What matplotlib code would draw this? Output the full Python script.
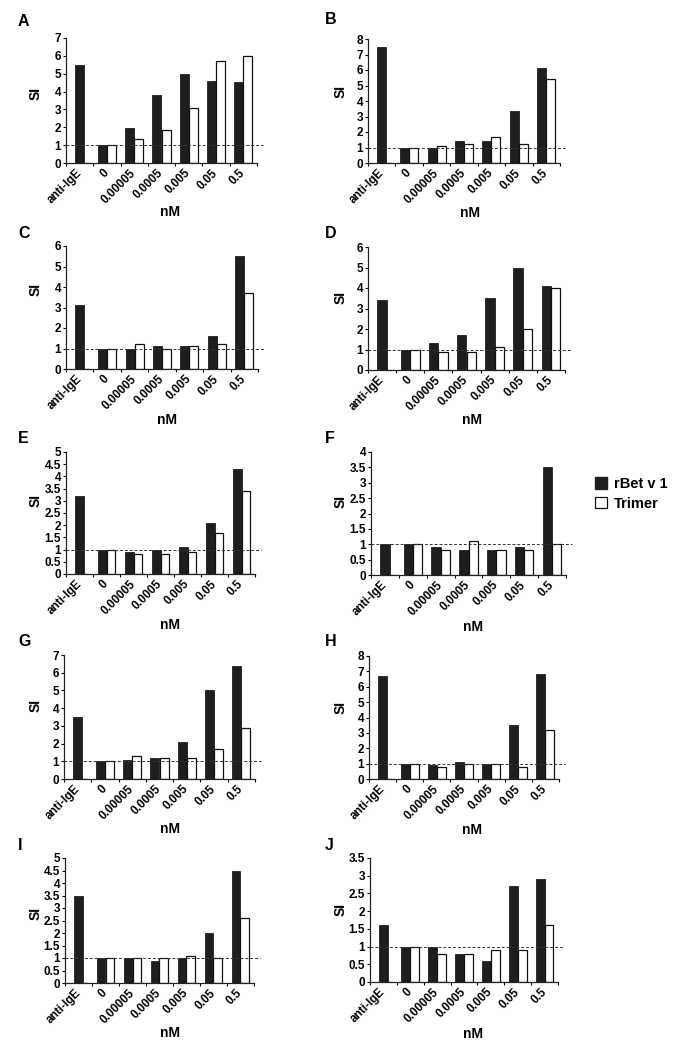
import numpy as np
import matplotlib
matplotlib.use("Agg")
import matplotlib.pyplot as plt
from matplotlib.patches import Patch

plt.rcParams['font.family'] = ['Liberation Sans', 'DejaVu Sans']
plt.rcParams['font.weight'] = 'bold'

categories = ["anti-IgE", "0", "0.00005", "0.0005", "0.005", "0.05", "0.5"]
series_names = ["rBet v 1", "Trimer"]
nan = np.nan

panel_labels = ["A", "B", "C", "D", "E", "F", "G", "H", "I", "J"]

rbet_A = [5.5, 1.0, 1.95, 3.8, 5.0, 4.6, 4.55]
trim_A = [nan, 1.0, 1.35, 1.85, 3.1, 5.7, 6.0]
rbet_B = [7.5, 1.0, 1.0, 1.4, 1.4, 3.35, 6.1]
trim_B = [nan, 1.0, 1.1, 1.2, 1.7, 1.2, 5.4]
rbet_C = [3.1, 1.0, 1.0, 1.1, 1.1, 1.6, 5.5]
trim_C = [nan, 1.0, 1.2, 1.0, 1.1, 1.2, 3.7]
rbet_D = [3.4, 1.0, 1.3, 1.7, 3.5, 5.0, 4.1]
trim_D = [nan, 1.0, 0.9, 0.9, 1.1, 2.0, 4.0]
rbet_E = [3.2, 1.0, 0.9, 1.0, 1.1, 2.1, 4.3]
trim_E = [nan, 1.0, 0.8, 0.8, 0.9, 1.7, 3.4]
rbet_F = [1.0, 1.0, 0.9, 0.8, 0.8, 0.9, 3.5]
trim_F = [nan, 1.0, 0.8, 1.1, 0.8, 0.8, 1.0]
rbet_G = [3.5, 1.0, 1.1, 1.2, 2.1, 5.0, 6.4]
trim_G = [nan, 1.0, 1.3, 1.2, 1.2, 1.7, 2.9]
rbet_H = [6.7, 1.0, 0.9, 1.1, 1.0, 3.5, 6.8]
trim_H = [nan, 1.0, 0.8, 1.0, 1.0, 0.8, 3.2]
rbet_I = [3.5, 1.0, 1.0, 0.9, 1.0, 2.0, 4.5]
trim_I = [nan, 1.0, 1.0, 1.0, 1.1, 1.0, 2.6]
rbet_J = [1.6, 1.0, 1.0, 0.8, 0.6, 2.7, 2.9]
trim_J = [nan, 1.0, 0.8, 0.8, 0.9, 0.9, 1.6]

yticks_A = [0, 1, 2, 3, 4, 5, 6, 7]
yticks_B = [0, 1, 2, 3, 4, 5, 6, 7, 8]
yticks_C = [0, 1, 2, 3, 4, 5, 6]
yticks_D = [0, 1, 2, 3, 4, 5, 6]
yticks_E = [0, 0.5, 1, 1.5, 2, 2.5, 3, 3.5, 4, 4.5, 5]
yticks_F = [0, 0.5, 1, 1.5, 2, 2.5, 3, 3.5, 4]
yticks_G = [0, 1, 2, 3, 4, 5, 6, 7]
yticks_H = [0, 1, 2, 3, 4, 5, 6, 7, 8]
yticks_I = [0, 0.5, 1, 1.5, 2, 2.5, 3, 3.5, 4, 4.5, 5]
yticks_J = [0, 0.5, 1, 1.5, 2, 2.5, 3, 3.5]

rbet_all = [rbet_A, rbet_B, rbet_C, rbet_D, rbet_E, rbet_F, rbet_G, rbet_H, rbet_I, rbet_J]
trim_all = [trim_A, trim_B, trim_C, trim_D, trim_E, trim_F, trim_G, trim_H, trim_I, trim_J]
yticks_all = [yticks_A, yticks_B, yticks_C, yticks_D, yticks_E, yticks_F,
              yticks_G, yticks_H, yticks_I, yticks_J]

# layout in pixels: left, right, top, bottom, letter (x,y), SI (x,y), nM (x,y)
W, H = 683, 1049
layout = [
    (66, 257, 38, 163, 18, 21, 36, 93, 170, 212),
    (368, 560, 39, 163, 325, 20, 341, 92, 470, 213),
    (66, 258, 246, 369, 18, 233, 36, 289, 167, 420),
    (368, 565, 247, 370, 325, 233, 341, 297, 472, 420),
    (66, 255, 452, 574, 18, 438, 36, 501, 170, 625),
    (371, 566, 452, 575, 325, 438, 341, 502, 473, 627),
    (64, 255, 655, 779, 18, 642, 36, 705, 170, 829),
    (369, 559, 656, 779, 325, 642, 341, 707, 472, 830),
    (65, 254, 858, 983, 18, 845, 36, 914, 170, 1033),
    (370, 558, 858, 982, 325, 845, 341, 909, 473, 1034),
]

DARK = "#1e1e1e"
fig = plt.figure(figsize=(W / 100, H / 100), dpi=100)

x = np.arange(len(categories))
bw = 0.33
for k in range(10):
    l, r, t, b, lx, ly, sx, sy, nx, ny = layout[k]
    ax = fig.add_axes([l / W, 1 - b / H, (r - l) / W, (b - t) / H])
    rb = np.array(rbet_all[k], dtype=float)
    tr = np.array(trim_all[k], dtype=float)
    xb = np.where(np.isnan(tr), x, x - bw / 2)
    ax.bar(xb, rb, width=bw, color=DARK, edgecolor=DARK, linewidth=0.6, zorder=2)
    ax.bar(x + bw / 2, np.nan_to_num(tr), width=bw, color="white", edgecolor="#111111",
           linewidth=0.9, zorder=2)
    ax.axhline(1, color="#333333", linestyle=(0, (3, 2)), linewidth=0.7, zorder=3,
               xmin=0, xmax=1.03, clip_on=False)
    yt = yticks_all[k]
    ax.set_ylim(0, yt[-1])
    ax.set_xlim(-0.5, len(categories) - 0.5)
    ax.set_yticks(yt)
    ax.set_yticklabels([f"{v:g}" for v in yt], fontsize=8.5, fontweight="bold")
    ax.set_xticks(x)
    ax.set_xticklabels(categories, rotation=45, ha="right", va="center",
                       rotation_mode="anchor", fontsize=8.5, fontweight="bold")
    ax.set_xticks(np.arange(-0.5, len(categories)), minor=True)
    ax.tick_params(axis="x", which="major", length=0, pad=6)
    ax.tick_params(axis="x", which="minor", length=2.5, width=0.8, direction="out")
    ax.tick_params(axis="y", length=2, width=0.8, pad=1.5)
    for s in ("top", "right"):
        ax.spines[s].set_visible(False)
    for s in ("left", "bottom"):
        ax.spines[s].set_linewidth(0.9)
        ax.spines[s].set_color("#222222")
    fig.text(lx / W, 1 - ly / H, panel_labels[k], fontsize=11.5, fontweight="bold",
             ha="left", va="center")
    fig.text(sx / W, 1 - sy / H, "SI", fontsize=10, fontweight="bold",
             ha="center", va="center", rotation=90)
    fig.text(nx / W, 1 - ny / H, "nM", fontsize=10, fontweight="bold",
             ha="center", va="center")

handles = [Patch(facecolor=DARK, edgecolor=DARK),
           Patch(facecolor="white", edgecolor="#111111", linewidth=0.9)]
fig.legend(handles, series_names, loc="center left",
           bbox_to_anchor=(582 / W, 1 - 494 / H), frameon=False,
           handlelength=0.8, handleheight=0.8, handletextpad=0.5, labelspacing=0.4,
           prop={"size": 10.5, "weight": "bold"})

fig.savefig("out.png", dpi=100)
